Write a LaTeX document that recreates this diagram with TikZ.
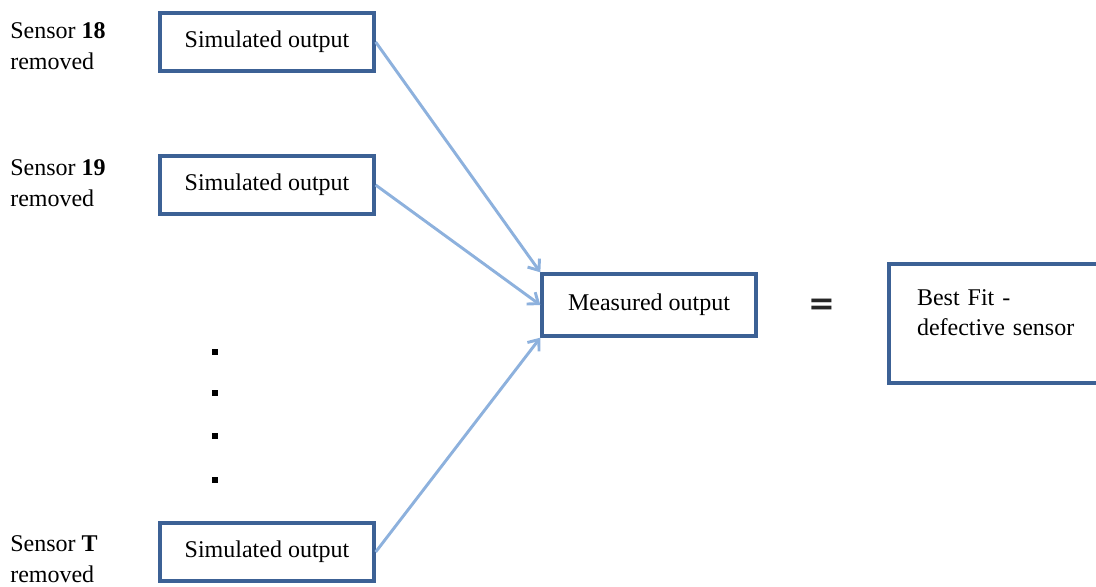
\documentclass[tikz,border=0pt]{standalone}
\usepackage{fontspec}
\setmainfont{Liberation Serif}
\newfontfamily\symfont{DejaVu Sans}
\usetikzlibrary{arrows.meta}

\definecolor{boxblue}{HTML}{3C6195}
\definecolor{arrowblue}{HTML}{8DB1DD}

\tikzset{
    outbox/.style = {shape=rectangle, draw=boxblue, line width=3pt,
        fill=white, minimum width=160pt, minimum height=44pt, inner sep=0pt},
    sensorlabel/.style = {align=left, anchor=west, inner sep=0pt},
    feed/.style = {draw=arrowblue, line width=2.2pt,
        -{Straight Barb[length=7pt,width=11pt]}},
    dotmark/.style = {shape=rectangle, fill=black, minimum size=4pt, inner sep=0pt}
}

\begin{document}
\begin{tikzpicture}[x=0.75pt, y=-0.75pt,
        every node/.append style = {font=\fontsize{18pt}{23pt}\selectfont}]
        \clip (0,0) rectangle (1096,586);

        % sensor labels
        \node[sensorlabel] (l18) at (10, 46) {Sensor \textbf{18}\\removed};
        \node[sensorlabel] (l19) at (10, 183) {Sensor \textbf{19}\\removed};
        \node[sensorlabel] (lT)  at (10, 559) {Sensor \textbf{T}\\removed};

        % simulated outputs
        \node[outbox] (s18) at (267, 42) {Simulated output};
        \node[outbox] (s19) at (267, 185) {Simulated output};
        \node[outbox] (sT)  at (267, 552) {Simulated output};

        \foreach \i/\y in {1/352, 2/393, 3/436, 4/480}
            \node[dotmark] (d\i) at (215, \y) {};

        \node[outbox, minimum height=46pt] (meas) at (649, 305) {Measured output};

        \node[font=\fontsize{24pt}{24pt}\symfont\bfseries, text=black!85] (eq) at (822, 307) {=};

        \node[outbox, anchor=north west, align=left, text width=190pt,
            inner xsep=21pt, inner ysep=19pt] (best) at (887, 262)
            {Best Fit -\\defective sensor\rule[-16pt]{0pt}{0pt}};

        \draw[feed] (s18.east) -- (meas.north west);
        \draw[feed] (s19.east) -- (meas.west);
        \draw[feed] (sT.east) -- (meas.south west);
\end{tikzpicture}
\end{document}
